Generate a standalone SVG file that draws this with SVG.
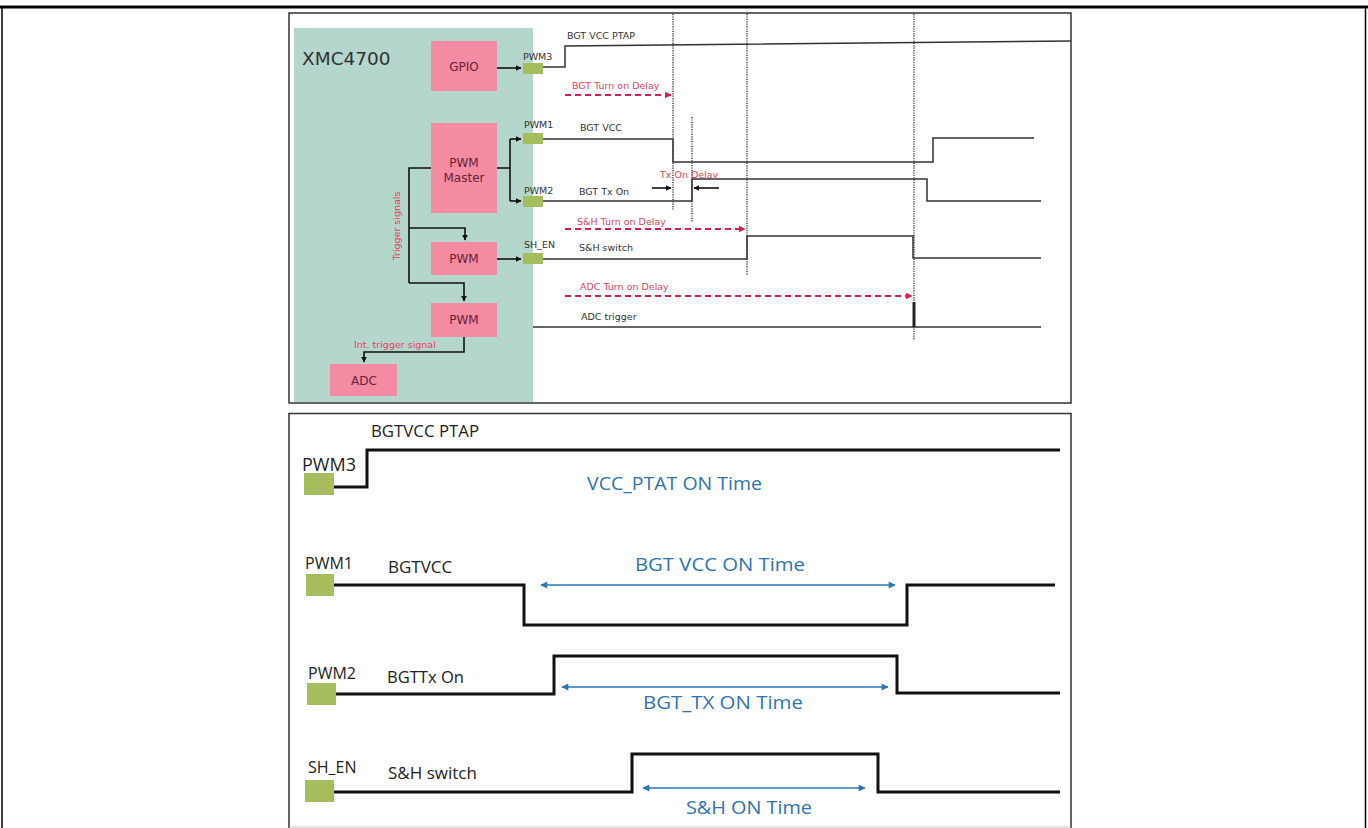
<svg xmlns="http://www.w3.org/2000/svg" width="1368" height="828" viewBox="0 0 1368 828">
<defs>
<marker id="ah" viewBox="0 0 10 10" refX="9" refY="5" markerWidth="6" markerHeight="6" orient="auto" markerUnits="userSpaceOnUse"><path d="M0,0 L10,5 L0,10 z" fill="#111"/></marker>
<marker id="ahr" viewBox="0 0 10 10" refX="9" refY="5" markerWidth="7" markerHeight="7" orient="auto" markerUnits="userSpaceOnUse"><path d="M0,0 L10,5 L0,10 z" fill="#D81E4E"/></marker>
<marker id="ahb" viewBox="0 0 10 10" refX="9" refY="5" markerWidth="8" markerHeight="7" orient="auto-start-reverse" markerUnits="userSpaceOnUse"><path d="M0,0 L10,5 L0,10 z" fill="#2E75B6"/></marker>
<style>
.box{fill:#F38BA3}
.pad{fill:#A6BD5E}
.bt{font-family:"DejaVu Sans",Verdana,sans-serif;font-size:12px;fill:#6A2233;text-anchor:middle}
.sl{font-family:"DejaVu Sans",Verdana,sans-serif;font-size:9.5px;fill:#333}
.rl{font-family:"DejaVu Sans",Verdana,sans-serif;font-size:9.5px;fill:#E8415F}
.conn{fill:none;stroke:#111;stroke-width:1.6}
.wave{fill:none;stroke:#333;stroke-width:1.5}
.dot{fill:none;stroke:#444;stroke-width:1.5;stroke-dasharray:1.2 1.2}
.rdash{fill:none;stroke:#D81E4E;stroke-width:2;stroke-dasharray:6 4}
.bw{fill:none;stroke:#111;stroke-width:3}
.bl{font-family:"Open Sans","Noto Sans",sans-serif;fill:#222}
.blue{font-family:"Open Sans","Noto Sans",sans-serif;font-size:19px;fill:#2E74B5}
.barr{fill:none;stroke:#2E75B6;stroke-width:1.6}
</style>
</defs>
<rect x="0" y="0" width="1368" height="828" fill="#fff"/>
<g id="page-frame">
<line x1="0" y1="7" x2="1368" y2="7" stroke="#000" stroke-width="3"/>
<line x1="2" y1="7" x2="2" y2="828" stroke="#000" stroke-width="1.5"/>
<line x1="1365.5" y1="7" x2="1365.5" y2="828" stroke="#000" stroke-width="1.5"/>
</g>
<g id="top-panel">
<rect x="289" y="13" width="782" height="390" fill="#fff" stroke="#333" stroke-width="1.5"/>
<rect x="294" y="28" width="239" height="374" fill="#B4D6CC"/>
<text x="302" y="65" font-family="DejaVu Sans,Verdana,sans-serif" font-size="18.5" fill="#333">XMC4700</text>
</g>
<g id="gpio"><rect class="box" x="431" y="41" width="66" height="50"/><text class="bt" x="464" y="71">GPIO</text></g>
<g id="pwm-master"><rect class="box" x="431" y="123" width="66" height="90"/><text class="bt" x="464" y="167">PWM</text><text class="bt" x="464" y="182">Master</text></g>
<g id="pwm-a"><rect class="box" x="431" y="242" width="66" height="33"/><text class="bt" x="464" y="263">PWM</text></g>
<g id="pwm-b"><rect class="box" x="431" y="303" width="66" height="34"/><text class="bt" x="464" y="324">PWM</text></g>
<g id="adc"><rect class="box" x="330" y="364" width="67" height="32"/><text class="bt" x="364" y="385">ADC</text></g>
<g id="pad-pwm3"><rect class="pad" x="523" y="63" width="20" height="11"/><text class="sl" x="523" y="60">PWM3</text></g>
<g id="pad-pwm1"><rect class="pad" x="523" y="133" width="20" height="11"/><text class="sl" x="524" y="128">PWM1</text></g>
<g id="pad-pwm2"><rect class="pad" x="523" y="196" width="20" height="11"/><text class="sl" x="524" y="194">PWM2</text></g>
<g id="pad-shen"><rect class="pad" x="523" y="253" width="20" height="11"/><text class="sl" x="524" y="248">SH_EN</text></g>
<g id="connectors">
<path class="conn" d="M497,68 H521" marker-end="url(#ah)"/>
<path class="conn" d="M497,168 H510 M510,139 V201"/>
<path class="conn" d="M510,139 H521" marker-end="url(#ah)"/>
<path class="conn" d="M510,201 H521" marker-end="url(#ah)"/>
<path class="conn" d="M431,168 H409 V283"/>
<path class="conn" d="M409,228 H465 V240" marker-end="url(#ah)"/>
<path class="conn" d="M409,283 H464 V301" marker-end="url(#ah)"/>
<path class="conn" d="M497,259 H521" marker-end="url(#ah)"/>
<path class="conn" d="M464,337 V352 H364 V362" marker-end="url(#ah)"/>
<text class="rl" transform="translate(400,226) rotate(-90)" text-anchor="middle">Trigger signals</text>
<text class="rl" x="354" y="348">Int. trigger signal</text>
</g>
<g id="timing-top">
<line class="dot" x1="673" y1="14" x2="673" y2="210"/>
<line class="dot" x1="692" y1="117" x2="692" y2="222"/>
<line class="dot" x1="747" y1="14" x2="747" y2="275"/>
<line class="dot" x1="914" y1="14" x2="914" y2="340"/>
<path class="wave" d="M543,67 H565 V46 L1071,41"/>
<text class="sl" x="567" y="39">BGT VCC PTAP</text>
<text class="rl" x="572" y="88.5">BGT Turn on Delay</text>
<path class="rdash" d="M565,95 H671" marker-end="url(#ahr)"/>
<path class="wave" d="M543,139 H673 V162 H933 V138 H1034"/>
<text class="sl" x="580" y="131">BGT VCC</text>
<path class="wave" d="M543,201 H692 V179 H927 V201 H1041"/>
<text class="sl" x="579" y="195">BGT Tx On</text>
<text class="rl" x="660" y="177.5">Tx On Delay</text>
<path class="conn" d="M652,188 H671" marker-end="url(#ah)" stroke-width="1.3"/>
<path class="conn" d="M719,188 H694" marker-end="url(#ah)" stroke-width="1.3"/>
<text class="rl" x="577" y="224.5">S&amp;H Turn on Delay</text>
<path class="rdash" d="M565,229 H745" marker-end="url(#ahr)"/>
<path class="wave" d="M543,259 H747 V236 H913 V258 H1041"/>
<text class="sl" x="579" y="251">S&amp;H switch</text>
<text class="rl" x="580" y="289.5">ADC Turn on Delay</text>
<path class="rdash" d="M565,296 H912" marker-end="url(#ahr)"/>
<path class="wave" d="M533,327 H1041"/>
<line x1="914" y1="302" x2="914" y2="327" stroke="#222" stroke-width="3"/>
<text class="sl" x="581" y="320">ADC trigger</text>
</g>
<g id="bottom-panel">
<path d="M289,828 V413.5 H1071 V828" fill="none" stroke="#333" stroke-width="1.5"/>
<line x1="289" y1="827" x2="1071" y2="827" stroke="#ccc" stroke-width="1"/>
</g>
<g id="b-pwm3">
<rect class="pad" x="304" y="473" width="30" height="22"/>
<text class="bl" x="302" y="471" font-size="18">PWM3</text>
<text class="bl" x="371" y="437" font-size="17" textLength="108" lengthAdjust="spacingAndGlyphs">BGTVCC PTAP</text>
<path class="bw" d="M334,487 H367 V450 H1060"/>
<text class="blue" x="587" y="490" textLength="175" lengthAdjust="spacingAndGlyphs">VCC_PTAT ON Time</text>
</g>
<g id="b-pwm1">
<rect class="pad" x="306" y="574" width="28" height="22"/>
<text class="bl" x="305" y="569" font-size="16">PWM1</text>
<text class="bl" x="388" y="573" font-size="17">BGTVCC</text>
<path class="bw" d="M334,585 H524 V625 H907 V585 H1055"/>
<text class="blue" x="635" y="571" textLength="170" lengthAdjust="spacingAndGlyphs">BGT VCC ON Time</text>
<path class="barr" d="M541,585 H895" marker-start="url(#ahb)" marker-end="url(#ahb)"/>
</g>
<g id="b-pwm2">
<rect class="pad" x="307" y="683" width="29" height="22"/>
<text class="bl" x="308" y="679" font-size="16">PWM2</text>
<text class="bl" x="387" y="683" font-size="17" textLength="77" lengthAdjust="spacingAndGlyphs">BGTTx On</text>
<path class="bw" d="M336,694 H554 V656 H897 V693 H1060"/>
<text class="blue" x="643" y="709" textLength="160" lengthAdjust="spacingAndGlyphs">BGT_TX ON Time</text>
<path class="barr" d="M562,687 H888" marker-start="url(#ahb)" marker-end="url(#ahb)"/>
</g>
<g id="b-shen">
<rect class="pad" x="305" y="780" width="29" height="22"/>
<text class="bl" x="308" y="773" font-size="16">SH_EN</text>
<text class="bl" x="388" y="779" font-size="17">S&amp;H switch</text>
<path class="bw" d="M334,792 H632 V754 H878 V792 H1060"/>
<text class="blue" x="686" y="814" textLength="126" lengthAdjust="spacingAndGlyphs">S&amp;H ON Time</text>
<path class="barr" d="M643,788 H865" marker-start="url(#ahb)" marker-end="url(#ahb)"/>
</g>
</svg>
